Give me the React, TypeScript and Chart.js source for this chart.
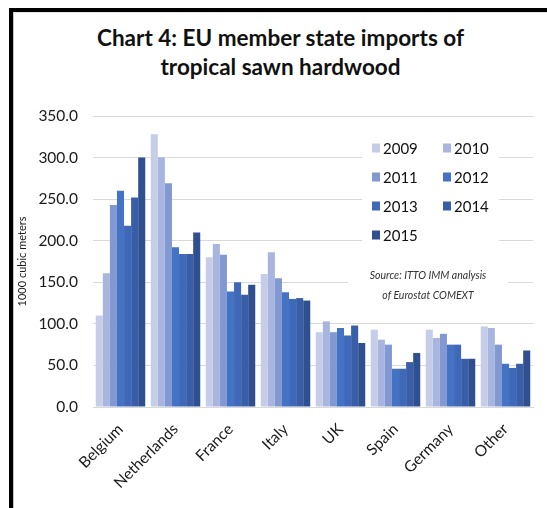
import React, { useEffect, useRef } from "react";
import { Chart, registerables } from "chart.js";

Chart.register(...registerables);

const categories = ["Belgium", "Netherlands", "France", "Italy", "UK", "Spain", "Germany", "Other"];
const years = ["2009", "2010", "2011", "2012", "2013", "2014", "2015"];
const v2009 = [110, 328, 180, 160, 90, 93, 93, 97];
const v2010 = [161, 300, 196, 186, 103, 81, 83, 95];
const v2011 = [243, 269, 183, 155, 90, 75, 88, 75];
const v2012 = [260, 192, 139, 138, 95, 46, 75, 52];
const v2013 = [218, 184, 150, 130, 86, 46, 75, 47];
const v2014 = [252, 184, 135, 131, 98, 54, 58, 52];
const v2015 = [300, 210, 147, 128, 77, 65, 58, 68];
const seriesValues = [v2009, v2010, v2011, v2012, v2013, v2014, v2015];
const colors = ["#c5cde9", "#a8b5df", "#8298d2", "#4472c4", "#3f69b8", "#395ea7", "#2f4f8e"];
const yTicks = [0, 50, 100, 150, 200, 250, 300, 350];
const titleLines = ["Chart 4: EU member state imports of", "tropical sawn hardwood"];
const sourceLines = ["Source: ITTO IMM analysis", "of Eurostat COMEXT"];
const yTitle = "1000 cubic meters";

const FONT = "Lato, 'Open Sans', sans-serif";

const overlayPlugin = {
  id: "overlay",
  beforeDatasetsDraw(chart: any) {
    const { ctx, chartArea } = chart;
    const ca = chartArea;
    ctx.save();
    // legend box
    const lx = ca.left + 269;
    const ly = ca.top + 19;
    ctx.fillStyle = "#ffffff";
    ctx.fillRect(lx, ly, 137, 116);
    ctx.font = `15px ${FONT}`;
    ctx.textBaseline = "middle";
    ctx.textAlign = "left";
    chart.data.datasets.forEach((ds: any, i: number) => {
      const col = i % 2;
      const row = Math.floor(i / 2);
      const x = lx + 10 + col * 71;
      const y = ly + 13 + row * 29;
      ctx.fillStyle = ds.backgroundColor;
      ctx.fillRect(x, y - 4.5, 8, 9);
      ctx.fillStyle = "#111111";
      ctx.fillText(ds.label, x + 11, y + 1);
    });
    // source box
    const sx = ca.left + 335;
    ctx.fillStyle = "#ffffff";
    ctx.fillRect(sx - 80, ca.top + 152, 160, 36);
    ctx.font = `italic 10.5px ${FONT}`;
    ctx.textAlign = "center";
    ctx.fillStyle = "#333333";
    sourceLines.forEach((t, i) => ctx.fillText(t, sx, ca.top + 160 + i * 20));
    ctx.restore();
  },
};

export default function App() {
  const ref = useRef<HTMLCanvasElement>(null);
  useEffect(() => {
    document.body.style.margin = "0";
    const chart = new Chart(ref.current as HTMLCanvasElement, {
      type: "bar",
      data: {
        labels: categories,
        datasets: years.map((y, i) => ({
          label: y,
          data: seriesValues[i],
          backgroundColor: colors[i],
          borderWidth: 0,
          categoryPercentage: 0.9,
          barPercentage: 1.0,
        })),
      },
      options: {
        responsive: false,
        animation: false,
        layout: { padding: { left: 14, right: 14, top: 116, bottom: 0 } },
        plugins: { legend: { display: false }, tooltip: { enabled: false }, title: { display: false } },
        scales: {
          x: {
            grid: { display: false, drawTicks: false },
            border: { display: true, color: "#d9d9d9" },
            ticks: {
              color: "#1a1a1a",
              font: { family: FONT, size: 15.5 },
              minRotation: 45,
              maxRotation: 45,
              padding: 13,
              autoSkip: false,
            },
            afterFit(scale: any) {
              scale.height = 101;
            },
          },
          y: {
            min: 0,
            max: 350,
            afterBuildTicks(scale: any) {
              scale.ticks = yTicks.map((v) => ({ value: v }));
            },
            grid: { color: "#d9d9d9", drawTicks: false },
            border: { display: false },
            ticks: {
              color: "#1a1a1a",
              font: { family: FONT, size: 15.5 },
              padding: 15,
              callback: (v: any) => Number(v).toFixed(1),
            },
            title: {
              display: true,
              text: yTitle,
              color: "#1a1a1a",
              font: { family: FONT, size: 11 },
              padding: { top: 2, bottom: 0 },
            },
            afterFit(scale: any) {
              scale.width = 79;
            },
          },
        },
      } as any,
      plugins: [overlayPlugin],
    });
    return () => chart.destroy();
  }, []);

  return (
    <div style={{ position: "relative", width: 547, height: 508, background: "#fff", overflow: "hidden", fontFamily: FONT }}>
      <div style={{ position: "absolute", left: 9, top: 8, width: 538, height: 500, borderTop: "4px solid #000", borderLeft: "4px solid #000", boxSizing: "border-box" }} />
      <div style={{ position: "absolute", left: 13, top: 12, width: 534, height: 496, borderLeft: "1px solid #c8c8c8", borderTop: "1px solid #e4e4e4", boxSizing: "border-box" }} />
      <div style={{ position: "absolute", left: 14, top: 23, width: 533, textAlign: "center", fontWeight: 700, fontSize: 22.5, lineHeight: "29px", color: "#111" }}>
        {titleLines.map((t) => (
          <div key={t}>{t}</div>
        ))}
      </div>
      <canvas ref={ref} width={547} height={508} style={{ position: "absolute", left: 0, top: 0 }} />
    </div>
  );
}
